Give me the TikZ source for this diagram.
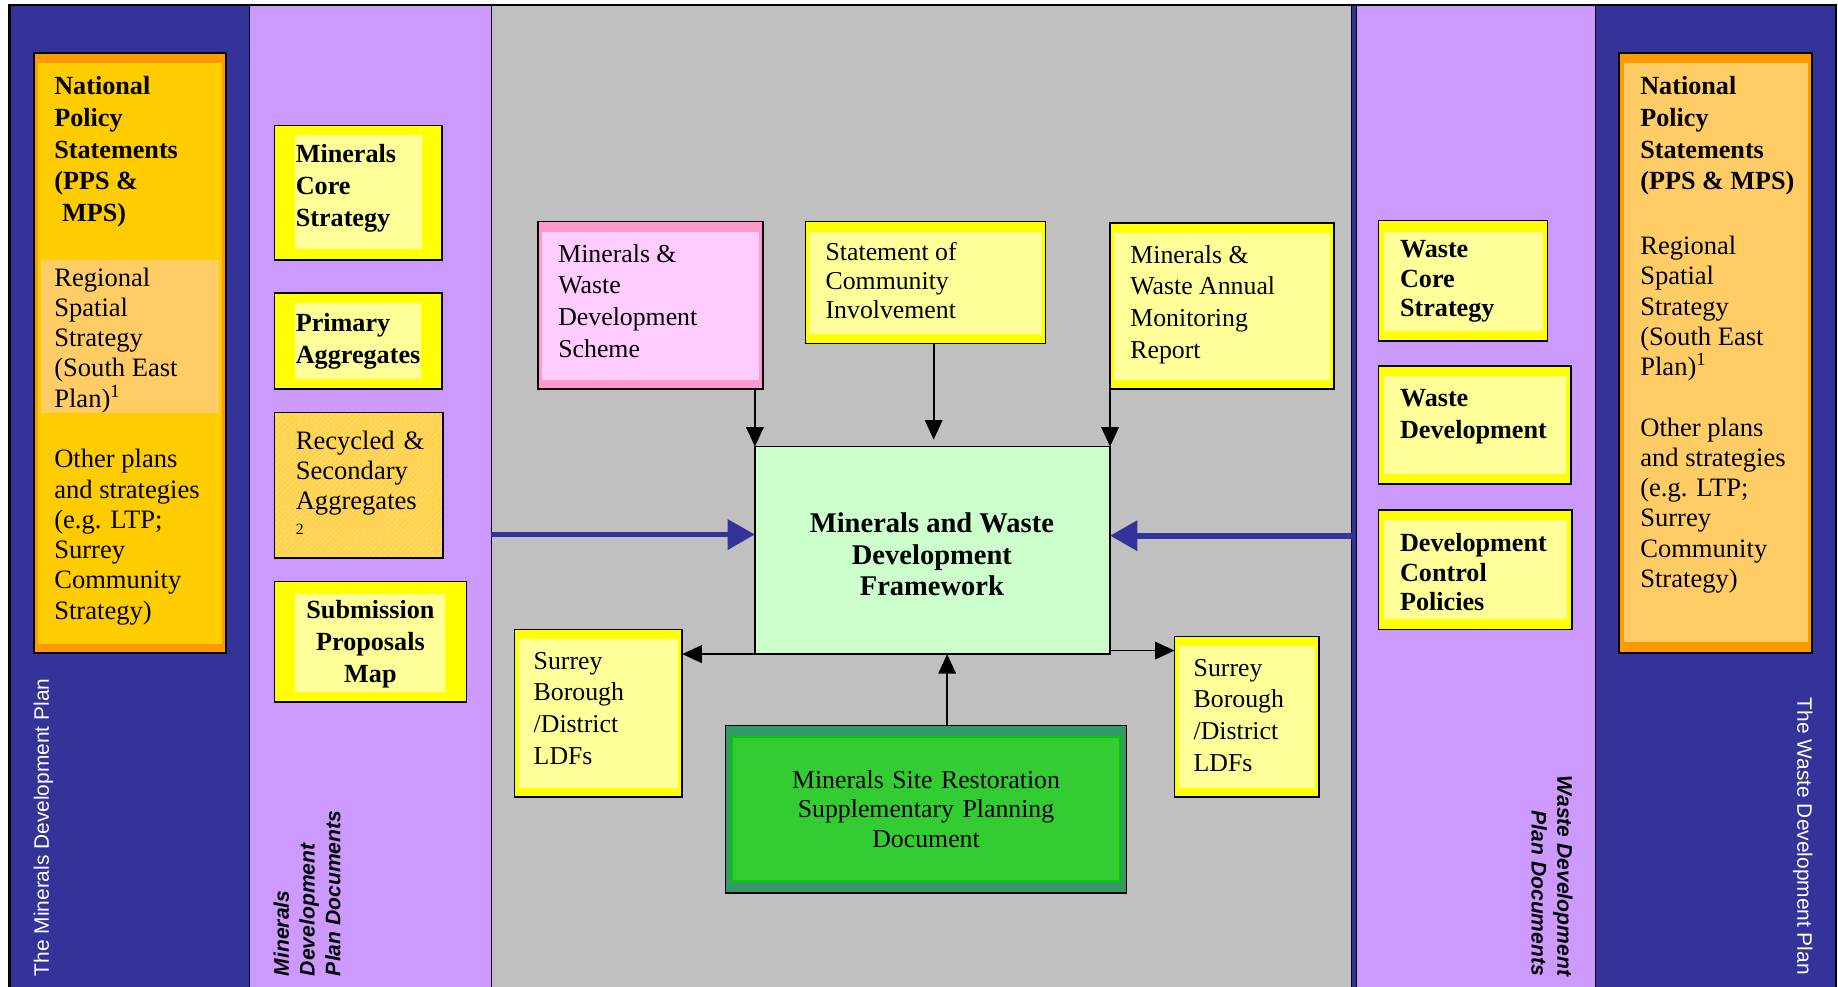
\documentclass[tikz,border=0pt]{standalone}
\usepackage{fontspec}
\setmainfont{Liberation Serif}
\setsansfont{Liberation Sans}
\usetikzlibrary{arrows.meta,patterns,fit}
\definecolor{navy}{HTML}{333399}
\definecolor{lpurple}{HTML}{CC99FF}
\definecolor{mgray}{HTML}{C0C0C0}
\definecolor{orangeb}{HTML}{FF9900}
\definecolor{gold}{HTML}{FFCC00}
\definecolor{lorange}{HTML}{FFCC66}
\definecolor{yellowb}{HTML}{FFFF00}
\definecolor{lyellow}{HTML}{FFFF99}
\definecolor{pinkb}{HTML}{FF99CC}
\definecolor{pinki}{HTML}{FFCCFF}
\definecolor{mint}{HTML}{CCFFCC}
\definecolor{dgreen}{HTML}{339966}
\definecolor{mgreen}{HTML}{33CC33}
\definecolor{bgreen}{HTML}{00CC00}
\newcommand\fSideB{\fontsize{13.4}{16.2}\selectfont\bfseries}
\newcommand\fSideBt{\fontsize{13.4}{15}\selectfont\bfseries}
\newcommand\fSideR{\fontsize{13.6}{15.5}\selectfont}
\newcommand\fCen{\fontsize{13.2}{16.2}\selectfont}
\newcommand\fCent{\fontsize{13.2}{15}\selectfont}
\newcommand\fFrame{\fontsize{14.6}{16.2}\selectfont\bfseries}
\newcommand\fRot{\fontsize{10.7}{13}\selectfont\sffamily}
\newcommand\fRotB{\fontsize{10.8}{13.2}\selectfont\sffamily\bfseries\itshape}
\newcommand\insetbox[6]{\fill[#2] ([xshift=#3,yshift=-#4]#1.north west) rectangle ([xshift=-#5,yshift=#6]#1.south east);}
\begin{document}
\begin{tikzpicture}[x=0.6pt,y=-0.6pt,
  frame/.style={draw=black, line width=0.8pt, inner sep=0pt, outer sep=0pt},
  txt/.style={anchor=north west, align=left, inner sep=0pt},
  ctxt/.style={anchor=north, align=center, inner sep=0pt},
  arr/.style={line width=0.9pt, -{Triangle[width=9pt,length=10pt]}},
  barr/.style={draw=navy, line width=3pt, -{Triangle[width=15pt,length=14pt]}},
  col/.style={draw=black, line width=0.6pt}]
\useasboundingbox (0,0) rectangle (1568,842);
% columns
\filldraw[col, fill=navy] (8,4) rectangle (213,850);
\filldraw[col, fill=lpurple] (213,4) rectangle (419,850);
\filldraw[col, fill=mgray] (419,4) rectangle (1153,850);
\filldraw[col, fill=navy] (1153,4) rectangle (1157,850);
\filldraw[col, fill=lpurple] (1157,4) rectangle (1361,850);
\filldraw[col, fill=navy] (1361,4) rectangle (1566,850);
\draw[line width=1.2pt] (8,850) -- (8,4) -- (1566,4) -- (1566,850);

% left orange box
\node[frame, fill=orangeb, fit={(29,45) (193,557)}] (lnps) {};
\insetbox{lnps}{gold}{2.1pt}{5.1pt}{2.1pt}{4.8pt}
\fill[lorange] (35,222) rectangle (187,352);
\node[txt, font=\fSideB] (lnpst) at (46,65) {National\\Policy\\Statements\\(PPS \&\\\hspace*{4pt}MPS)};
\node[txt, font=\fSideR] (lrss) at (46,228) {Regional\\Spatial\\Strategy\\(South East\\Plan)\textsuperscript{1}};
\node[txt, font=\fSideR] (lother) at (46,383) {Other plans\\and strategies\\(e.g. LTP;\\Surrey\\Community\\Strategy)};
\node[anchor=west, rotate=90, inner sep=0pt, text=white, font=\fRot] (mdp) at (37,833) {The Minerals Development Plan};

% minerals column
\node[frame, fill=yellowb, fit={(234,107) (377,222)}] (mcs) {};
\insetbox{mcs}{lyellow}{10.8pt}{5.1pt}{10.2pt}{6pt}
\node[txt, font=\fSideB] (mcst) at (252,123) {Minerals\\Core\\Strategy};
\node[frame, fill=yellowb, fit={(234,250) (377,332)}] (pa) {};
\insetbox{pa}{lyellow}{10.8pt}{5.1pt}{10.8pt}{5.4pt}
\node[txt, font=\fSideB] (pat) at (252,267) {Primary\\Aggregates};
\node[frame, preaction={fill=lorange}, pattern=north east lines, pattern color=yellowb!70!lorange, fit={(234,352) (378,476)}] (rsa) {};
\node[txt, font=\fSideR, text width=80pt] (rsat) at (252,367) {Recycled \&\\Secondary\\Aggregates\\[-3pt]{\fontsize{8}{9}\selectfont 2}};
\node[frame, fill=yellowb, fit={(234,496) (398,599)}] (spm) {};
\insetbox{spm}{lyellow}{10.8pt}{6.6pt}{10.8pt}{5.4pt}
\node[ctxt, font=\fSideB, text width=80pt] (spmt) at (316,512) {Submission\\Proposals\\Map};
\node[anchor=north west, rotate=90, align=left, inner sep=0pt, font=\fRotB] (mdpd) at (233,833) {Minerals\\Development\\Plan Documents};

% right orange box
\node[frame, fill=orangeb, fit={(1381,45) (1546,557)}] (rnps) {};
\insetbox{rnps}{lorange}{2.4pt}{5.4pt}{2.4pt}{5.4pt}
\node[txt, font=\fSideB] (rnpst) at (1399,65) {National\\Policy\\Statements\\(PPS \& MPS)};
\node[txt, font=\fSideR] (rrss) at (1399,201) {Regional\\Spatial\\Strategy\\(South East\\Plan)\textsuperscript{1}};
\node[txt, font=\fSideR] (rother) at (1399,356) {Other plans\\and strategies\\(e.g. LTP;\\Surrey\\Community\\Strategy)};
\node[anchor=west, rotate=-90, inner sep=0pt, text=white, font=\fRot] (wdp) at (1538,595) {The Waste Development Plan};

% waste column
\node[frame, fill=yellowb, fit={(1176,188) (1320,291)}] (wcs) {};
\insetbox{wcs}{lyellow}{3pt}{6pt}{2.4pt}{5.4pt}
\node[txt, font=\fSideBt] (wcst) at (1194,205) {Waste\\Core\\Strategy};
\node[frame, fill=yellowb, fit={(1176,312) (1340,413)}] (wd) {};
\insetbox{wd}{lyellow}{3pt}{5.4pt}{2.4pt}{5.4pt}
\node[txt, font=\fSideB] (wdt) at (1194,332) {Waste\\Development};
\node[frame, fill=yellowb, fit={(1176,435) (1341,537)}] (dcp) {};
\insetbox{dcp}{lyellow}{3pt}{5.4pt}{2.4pt}{5.4pt}
\node[txt, font=\fSideBt] (dcpt) at (1194,455) {Development\\Control\\Policies};
\node[anchor=north east, rotate=-90, align=right, inner sep=0pt, font=\fRotB] (wdpd) at (1342,833) {Waste Development\\Plan Documents};

% centre
\node[frame, fill=pinkb, fit={(459,189) (651,332)}] (mwds) {};
\insetbox{mwds}{pinki}{2.1pt}{5.1pt}{2.1pt}{4.8pt}
\node[txt, font=\fCen] (mwdst) at (476,208) {Minerals \&\\Waste\\Development\\Scheme};
\node[frame, fill=yellowb, fit={(687,189) (892,293)}] (sci) {};
\insetbox{sci}{lyellow}{2.1pt}{5.1pt}{2.1pt}{4.8pt}
\node[txt, font=\fCent] (scit) at (704,206) {Statement of\\Community\\Involvement};
\node[frame, fill=yellowb, fit={(947,190) (1138,332)}] (mwamr) {};
\insetbox{mwamr}{lyellow}{2.1pt}{5.1pt}{2.1pt}{4.8pt}
\node[txt, font=\fCen] (mwamrt) at (964,209) {Minerals \&\\Waste Annual\\Monitoring\\Report};
\node[frame, fill=mint, fit={(644,381) (947,558)}] (mwdf) {};
\node[ctxt, font=\fFrame] (mwdft) at (795,437) {Minerals and Waste\\Development\\Framework};
\node[frame, fill=yellowb, fit={(439,537) (582,680)}] (sl) {};
\insetbox{sl}{lyellow}{2.1pt}{5.1pt}{2.1pt}{4.8pt}
\node[txt, font=\fCen] (slt) at (455,556) {Surrey\\Borough\\/District\\LDFs};
\node[frame, fill=yellowb, fit={(1002,543) (1125,680)}] (sr) {};
\insetbox{sr}{lyellow}{2.1pt}{5.1pt}{2.1pt}{4.8pt}
\node[txt, font=\fCen] (srt) at (1018,562) {Surrey\\Borough\\/District\\LDFs};
\node[frame, fill=dgreen, fit={(619,619) (961,762)}] (spd) {};
\fill[mgreen, draw=bgreen, line width=1pt] ([xshift=3.3pt,yshift=-5.7pt]spd.north west) rectangle ([xshift=-3.3pt,yshift=6.3pt]spd.south east);
\node[ctxt, font=\fCent, text width=200pt] (spdt) at (790,657) {Minerals Site Restoration\\Supplementary Planning\\Document};

% connectors
\draw[arr] (mwds.south -| mwdf.west) -- (mwdf.north west);
\draw[arr, shorten >=3.6pt] ([xshift=4.2pt]sci.south) -- ([xshift=4.2pt]sci.south |- mwdf.north);
\draw[arr] (mwamr.south west) -- (mwamr.south west |- mwdf.north);
\coordinate (gl) at (419,456);
\coordinate (gr) at (1153,457);
\draw[barr] (gl) -- (gl -| mwdf.west);
\draw[barr] (gr) -- (gr -| mwdf.east);
\draw[arr] (mwdf.south west) -- (mwdf.south west -| sl.east);
\draw[arr] ([yshift=1.8pt]mwdf.south east) -- ([yshift=1.8pt]mwdf.south east -| sr.west);
\draw[arr] ([xshift=10.8pt]spd.north) -- ([xshift=10.8pt]spd.north |- mwdf.south);
\end{tikzpicture}
\end{document}
